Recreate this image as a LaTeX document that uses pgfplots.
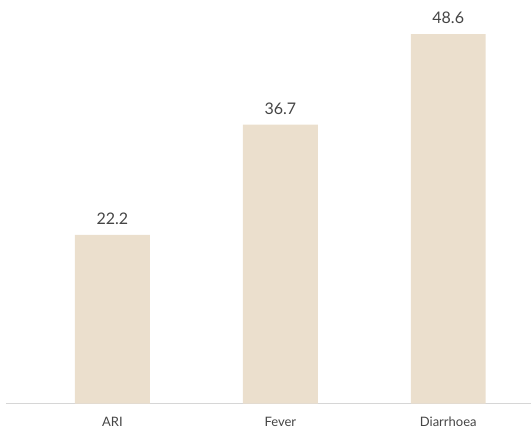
\documentclass[border=0pt]{standalone}
\usepackage{pgfplots}
\pgfplotsset{compat=1.18}
\usepackage{fontspec}
\setmainfont{Lato}
\definecolor{barc}{HTML}{EBDFCD}
\definecolor{txt}{HTML}{454545}
\definecolor{axl}{HTML}{D6D6D6}
\begin{document}
\begin{tikzpicture}
\begin{axis}[
  scale only axis,
  width=525bp, height=404bp,
  xmin=-0.634, xmax=2.49,
  ymin=0, ymax=53.1,
  axis y line=none,
  axis x line*=bottom,
  axis line style={axl, line width=1bp},
  x axis line style={-},
  xtick=data,
  xticklabels={ARI,Fever,Diarrhoea},
  xtick style={draw=none},
  xticklabel style={font=\fontsize{13bp}{15bp}\selectfont, text=txt, yshift=-6bp},
  ybar,
  bar width=75bp,
  clip=false,
  nodes near coords,
  nodes near coords style={font=\fontsize{16bp}{18bp}\selectfont, text=txt, /pgf/number format/fixed, /pgf/number format/precision=1, /pgf/number format/fixed zerofill, /pgf/number format/assume math mode=true, yshift=7bp},
]
\addplot[fill=barc, draw=none] coordinates {(0,22.2) (1,36.7) (2,48.6)};
\end{axis}
\path[use as bounding box] (current axis.south west) ++(-6bp,-26bp) rectangle (current axis.north east);
\end{tikzpicture}
\end{document}
